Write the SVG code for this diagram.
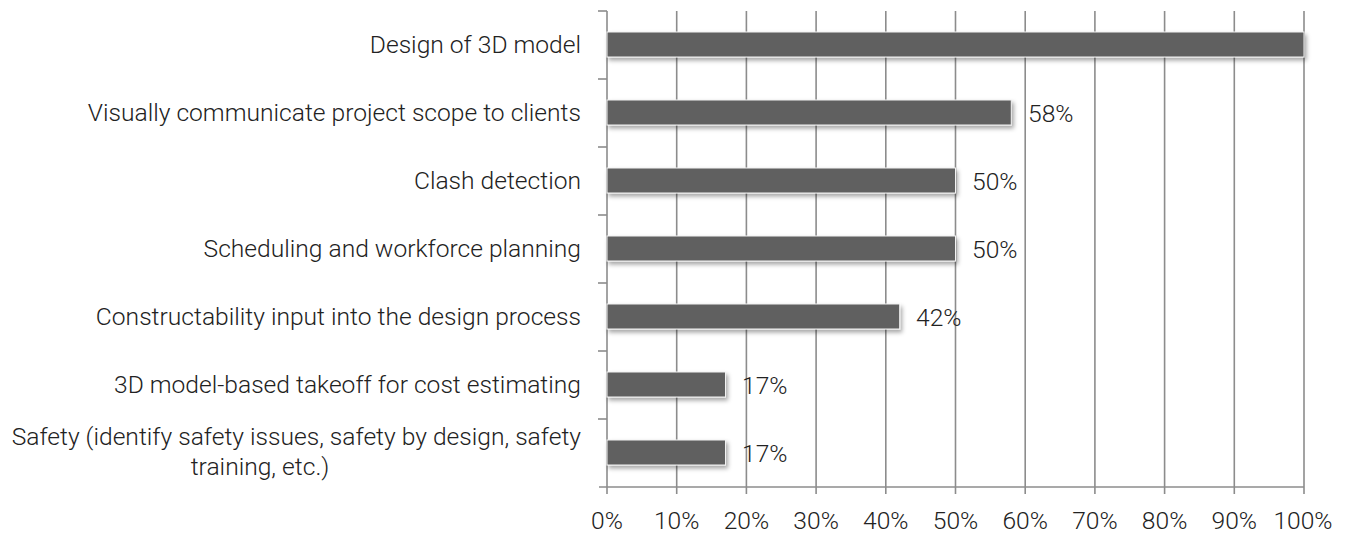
<svg xmlns="http://www.w3.org/2000/svg" width="1354" height="535" viewBox="0 0 1354 535">
  <defs>
    <filter id="shadow" x="-5%" y="-30%" width="115%" height="180%">
      <feDropShadow dx="2" dy="3" stdDeviation="2" flood-color="#000" flood-opacity="0.35"/>
    </filter>
  </defs>
  <style>
    text { font-family: Roboto, "Liberation Sans", sans-serif; font-weight: 300; font-size: 24.6px; fill: #222; }
    .cat { text-anchor: end; }
    .tick { text-anchor: middle; }
    .grid { stroke: #8c8c8c; stroke-width: 1.6; fill: none; }
    .bar { fill: #616161; stroke: #f2f2f2; stroke-width: 1; filter: url(#shadow); }
  </style>
  <rect width="1354" height="535" fill="#ffffff"/>

  <g id="gridlines">
    <line class="grid" x1="676.7" y1="11" x2="676.7" y2="494"/>
    <line class="grid" x1="746.4" y1="11" x2="746.4" y2="494"/>
    <line class="grid" x1="816.1" y1="11" x2="816.1" y2="494"/>
    <line class="grid" x1="885.8" y1="11" x2="885.8" y2="494"/>
    <line class="grid" x1="955.5" y1="11" x2="955.5" y2="494"/>
    <line class="grid" x1="1025.2" y1="11" x2="1025.2" y2="494"/>
    <line class="grid" x1="1094.9" y1="11" x2="1094.9" y2="494"/>
    <line class="grid" x1="1164.6" y1="11" x2="1164.6" y2="494"/>
    <line class="grid" x1="1234.3" y1="11" x2="1234.3" y2="494"/>
    <line class="grid" x1="1304" y1="11" x2="1304" y2="494"/>
  </g>

  <g id="axes">
    <line class="grid" x1="607" y1="11" x2="607" y2="494"/>
    <line class="grid" x1="599" y1="487" x2="1304" y2="487"/>
    <line class="grid" x1="598" y1="11" x2="607" y2="11"/>
    <line class="grid" x1="598" y1="79" x2="607" y2="79"/>
    <line class="grid" x1="598" y1="147" x2="607" y2="147"/>
    <line class="grid" x1="598" y1="215" x2="607" y2="215"/>
    <line class="grid" x1="598" y1="283" x2="607" y2="283"/>
    <line class="grid" x1="598" y1="351" x2="607" y2="351"/>
    <line class="grid" x1="598" y1="419" x2="607" y2="419"/>
  </g>

  <g id="bars">
    <g id="bar-design"><rect class="bar" x="607" y="32" width="697" height="25"/></g>
    <g id="bar-visual"><rect class="bar" x="607" y="100" width="404.3" height="25"/><text x="1028" y="122">58%</text></g>
    <g id="bar-clash"><rect class="bar" x="607" y="168" width="348.5" height="25"/><text x="972" y="190">50%</text></g>
    <g id="bar-schedule"><rect class="bar" x="607" y="236" width="348.5" height="25"/><text x="972" y="258">50%</text></g>
    <g id="bar-construct"><rect class="bar" x="607" y="304" width="292.7" height="25"/><text x="916" y="326">42%</text></g>
    <g id="bar-takeoff"><rect class="bar" x="607" y="372" width="118.5" height="25"/><text x="742" y="394">17%</text></g>
    <g id="bar-safety"><rect class="bar" x="607" y="440" width="118.5" height="25"/><text x="742" y="462">17%</text></g>
  </g>

  <g id="category-labels">
    <text class="cat" x="581" y="53">Design of 3D model</text>
    <text class="cat" x="581" y="121">Visually communicate project scope to clients</text>
    <text class="cat" x="581" y="189">Clash detection</text>
    <text class="cat" x="581" y="257">Scheduling and workforce planning</text>
    <text class="cat" x="581" y="325">Constructability input into the design process</text>
    <text class="cat" x="581" y="393">3D model-based takeoff for cost estimating</text>
    <text class="cat" x="581" y="445">Safety (identify safety issues, safety by design, safety</text>
    <text class="tick" x="260" y="475">training, etc.)</text>
  </g>

  <g id="x-axis-labels">
    <text class="tick" x="607" y="529">0%</text>
    <text class="tick" x="676.7" y="529">10%</text>
    <text class="tick" x="746.4" y="529">20%</text>
    <text class="tick" x="816.1" y="529">30%</text>
    <text class="tick" x="885.8" y="529">40%</text>
    <text class="tick" x="955.5" y="529">50%</text>
    <text class="tick" x="1025.2" y="529">60%</text>
    <text class="tick" x="1094.9" y="529">70%</text>
    <text class="tick" x="1164.6" y="529">80%</text>
    <text class="tick" x="1234.3" y="529">90%</text>
    <text class="tick" x="1303" y="529">100%</text>
  </g>
</svg>
